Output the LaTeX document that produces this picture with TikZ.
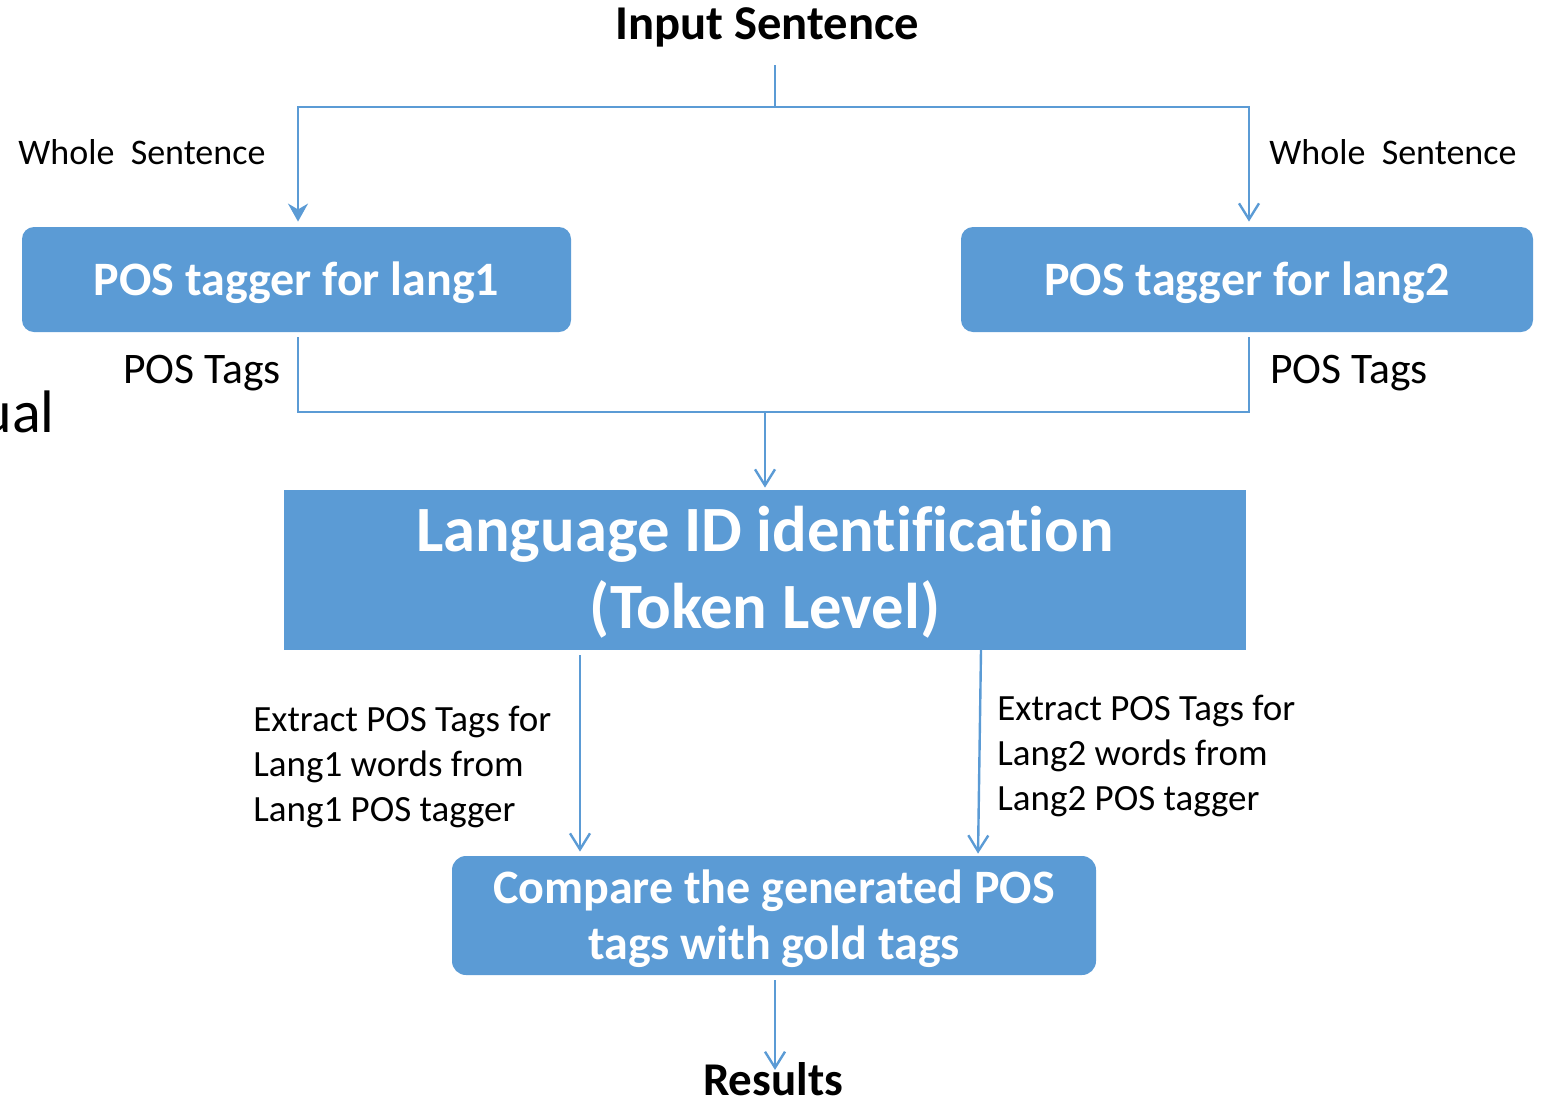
\documentclass[tikz,border=0pt]{standalone}
\usepackage{fontspec}
\setmainfont{Carlito}[Ligatures=NoCommon]
\usetikzlibrary{arrows.meta,positioning,calc}
\definecolor{PosBlue}{HTML}{5B9BD5}

\begin{document}
\begin{tikzpicture}[x=0.5pt,y=-0.5pt,
    flowbox/.style={fill=PosBlue,draw=none,text=white,font=\bfseries,align=center,inner sep=0pt},
    link/.style={PosBlue,line width=1.2pt},
    tip/.style={link,-{Straight Barb[length=8pt,width=10pt]}},
    lbl/.style={inner sep=0pt,anchor=west,align=left}]
    \useasboundingbox (0,0) rectangle (1542,1098);
    % title and left-over slide text
    \node[inner sep=0pt,font=\fontsize{24.3}{28}\selectfont\bfseries] (input) at (767,27) {Input Sentence};
    \node[inner sep=0pt,anchor=base east,font=\fontsize{30}{36}\selectfont] (ual) at (55,432) {ual};
    % boxes
    \node[flowbox,rounded corners=6pt,minimum width=274.5pt,minimum height=52.5pt,font=\fontsize{24}{28}\selectfont\bfseries] (lang1) at (296.5,279.5) {\raisebox{-7.75pt}[0pt][0pt]{POS tagger for lang1}};
    \node[flowbox,rounded corners=6pt,minimum width=286pt,minimum height=52.5pt,font=\fontsize{24}{28}\selectfont\bfseries] (lang2) at (1247,279.5) {\raisebox{-7.75pt}[0pt][0pt]{POS tagger for lang2}};
    \node[flowbox,minimum width=481pt,minimum height=80pt,font=\fontsize{32.3}{38.2}\selectfont\bfseries] (langid) at (765,570) {\raisebox{-29pt}[0pt][0pt]{\begin{tabular}[b]{@{}c@{}}Language ID identification\\(Token Level)\end{tabular}}};
    \node[flowbox,rounded corners=7pt,minimum width=322pt,minimum height=59.5pt,font=\fontsize{24}{28}\selectfont\bfseries] (compare) at (774,915.5) {\raisebox{-21.75pt}[0pt][0pt]{\begin{tabular}[b]{@{}c@{}}Compare the generated POS\\tags with gold tags\end{tabular}}};
    \node[inner sep=0pt,font=\fontsize{23.5}{26}\selectfont\bfseries] (results) at (773,1079) {Results};
    % labels
    \node[lbl,font=\fontsize{18}{22}\selectfont] (whole1) at (18,152) {Whole\ \ Sentence};
    \node[lbl,font=\fontsize{18}{22}\selectfont] (whole2) at (1269,152) {Whole\ \ Sentence};
    \node[lbl,font=\fontsize{21.8}{24}\selectfont] (tags1) at (123,373) {POS Tags};
    \node[lbl,font=\fontsize{21.8}{24}\selectfont] (tags2) at (1270,373) {POS Tags};
    \node[lbl,font=\fontsize{18.5}{22.5}\selectfont] (extract1) at (253,767) {Extract POS Tags for\\Lang1 words from\\Lang1 POS tagger};
    \node[lbl,font=\fontsize{18.5}{22.5}\selectfont] (extract2) at (997,756) {Extract POS Tags for\\Lang2 words from\\Lang2 POS tagger};
    % connectors
    \coordinate (start) at (775,65);
    \coordinate (split) at (775,107);
    \coordinate (join) at (765,412);
    \draw[link] (start) -- (split);
    \draw[link,-{Stealth[length=9pt,width=10pt]},shorten >=2.5pt] (split) -| (lang1.north -| 298,0);
    \draw[tip,shorten >=2.5pt] (split) -| (lang2.north -| 1249,0);
    \draw[link] ($(lang1.south -| 298,0)+(0,5)$) |- (join) -| ($(lang2.south -| 1249,0)+(0,5)$);
    \draw[tip,shorten >=1pt] (join) -- (langid.north -| join);
    \draw[tip,shorten <=2.5pt,shorten >=2pt] (langid.south -| 580,0) -- (compare.north -| 580,0);
    \draw[tip,shorten >=1pt] (981,650) -- (compare.north -| 978,0);
    \draw[tip,shorten <=2.5pt,shorten >=-4pt] (compare.south -| 775,0) -- (results.north -| 775,0);
\end{tikzpicture}
\end{document}
